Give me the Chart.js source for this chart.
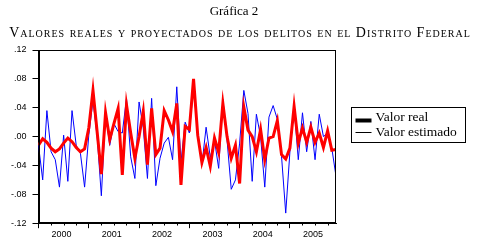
<!DOCTYPE html>
<html>
<head>
<meta charset="utf-8">
<script src="https://cdn.jsdelivr.net/npm/chart.js@4.4.1/dist/chart.umd.min.js"></script>
<style>
  html, body { margin: 0; padding: 0; background: #fff; }
  #wrap { position: relative; width: 480px; height: 249px; overflow: hidden; }
  canvas { position: absolute; left: 0; top: 0; }
  .ttl { position: absolute; left: 0; width: 480px; text-align: center; color: #000;
         font-family: 'Liberation Serif', serif; white-space: nowrap; }
  #t1 { top: 3px; left: -6px; font-size: 13px; line-height: 15px; }
  #t2 { top: 25px; font-size: 14px; line-height: 15px; font-variant: small-caps; letter-spacing: 1px; }
</style>
</head>
<body>
<div id="wrap">
  <canvas id="grafica" width="480" height="249"></canvas>
  <div class="ttl" id="t1">Gráfica 2</div>
  <div class="ttl" id="t2">Valores reales y proyectados de los delitos en el Distrito Federal</div>
</div>
<script>
// datos mensuales 2000M01 - 2005M12
const years = [2000, 2001, 2002, 2003, 2004, 2005];
const months = years.flatMap(y => Array.from({ length: 12 }, (_, m) => y + 'M' + String(m + 1).padStart(2, '0')));

const valorReal = [
  -0.012, -0.003, -0.008, -0.016, -0.021, -0.017, -0.009, -0.002, -0.007, -0.015, -0.021, -0.017,
   0.012,  0.064,  0.006, -0.052,  0.033, -0.004,  0.018,  0.039, -0.053,  0.044,  0.005, -0.030,
   0.000,  0.035, -0.039,  0.039, -0.025, -0.016,  0.036,  0.023,  0.007,  0.046, -0.067,  0.014,
   0.010,  0.080,  0.002, -0.036, -0.015, -0.041, -0.002, -0.022,  0.046,  0.000, -0.030, -0.012,
  -0.065,  0.041,  0.009,  0.000, -0.021,  0.010, -0.032, -0.002,  0.000,  0.022, -0.025, -0.031,
  -0.016,  0.042, -0.009,  0.012, -0.008,  0.013, -0.008,  0.005, -0.015,  0.008, -0.019, -0.018
];

const valorEstimado = [
  -0.012, -0.060,  0.036, -0.021, -0.032, -0.070,  0.002, -0.062,  0.036, -0.012, -0.023, -0.070,
   0.002,  0.050,  0.000, -0.082,  0.032, -0.012,  0.018,  0.007,  0.005,  0.053, -0.028, -0.058,
   0.048,  0.012, -0.058,  0.053, -0.068, -0.030, -0.009, -0.001, -0.032,  0.069, -0.035,  0.020,
   0.005,  0.070,  0.005, -0.039,  0.013, -0.029, -0.005, -0.044,  0.052, -0.005, -0.073, -0.060,
  -0.009,  0.064,  0.032, -0.062,  0.031,  0.000, -0.070,  0.027,  0.043,  0.024, -0.027, -0.106,
  -0.021,  0.041, -0.032,  0.033, -0.021,  0.021, -0.032,  0.031,  0.000,  0.005, -0.016, -0.055
];

const tickFont = { family: "'Liberation Sans', Arial, sans-serif", size: 9 };

// marco completo del área de trazado + marcas trimestrales
const marco = {
  id: 'marco',
  afterDraw(chart) {
    const { ctx, chartArea: a, scales } = chart;
    const l = Math.round(a.left) + 0.5, r = Math.round(a.right) - 0.5;
    const t = Math.round(a.top) + 0.5, b = Math.round(a.bottom) - 0.5;
    ctx.save();
    ctx.strokeStyle = '#000';
    ctx.lineWidth = 1;
    ctx.strokeRect(l, t, r - l, b - t);
    ctx.beginPath();
    for (let i = 3; i < months.length; i += 3) {
      if (i % 12 === 0) continue;
      const x = Math.round(scales.x.getPixelForValue(i)) + 0.5;
      ctx.moveTo(x, b);
      ctx.lineTo(x, b + 3);
    }
    ctx.stroke();
    ctx.restore();
  }
};

// leyenda con recuadro, a la derecha del gráfico
const leyenda = {
  id: 'leyenda',
  afterDraw(chart) {
    const { ctx, chartArea: a } = chart;
    const x0 = Math.round(a.right) + 15.5, y0 = Math.round(a.top) + 57.5;
    const w = 114, h = 35;
    ctx.save();
    ctx.strokeStyle = '#000';
    ctx.lineWidth = 1;
    ctx.strokeRect(x0, y0, w, h);
    ctx.font = "13.5px 'Liberation Serif', serif";
    ctx.fillStyle = '#000';
    ctx.textBaseline = 'middle';
    chart.data.datasets.forEach((ds, i) => {
      const yLine = i === 0 ? y0 + 13 : y0 + 25;
      const yText = y0 + 10 + i * 14.5;
      ctx.beginPath();
      ctx.lineWidth = ds.borderWidth > 1 ? 4 : 1;
      ctx.moveTo(x0 + 4, yLine);
      ctx.lineTo(x0 + 20, yLine);
      ctx.stroke();
      ctx.fillText(ds.label, x0 + 24, yText);
    });
    ctx.restore();
  }
};

new Chart(document.getElementById('grafica'), {
  type: 'line',
  data: {
    datasets: [
      {
        label: 'Valor real',
        data: valorReal.map((v, i) => ({ x: i, y: v })),
        borderColor: '#ff0000',
        borderWidth: 3,
        pointRadius: 0,
        tension: 0
      },
      {
        label: 'Valor estimado',
        data: valorEstimado.map((v, i) => ({ x: i, y: v })),
        borderColor: '#0000ff',
        borderWidth: 1,
        pointRadius: 0,
        tension: 0
      }
    ]
  },
  options: {
    responsive: false,
    animation: false,
    layout: { padding: { top: 50, left: 5, right: 144, bottom: 8 } },
    plugins: {
      legend: { display: false },
      tooltip: { enabled: false }
    },
    scales: {
      x: {
        type: 'linear',
        min: 0,
        max: months.length - 1,
        afterBuildTicks: (scale) => {
          const t = [];
          years.forEach((y, k) => { t.push({ value: k * 12 }); t.push({ value: k * 12 + 5.5 }); });
          scale.ticks = t;
        },
        ticks: {
          autoSkip: false,
          maxRotation: 0,
          padding: 1,
          color: '#000',
          font: tickFont,
          callback: (v) => (v % 12 === 5.5 ? String(years[Math.floor(v / 12)]) : '')
        },
        grid: {
          drawOnChartArea: false,
          tickLength: 5,
          tickColor: (c) => (c.tick && c.tick.value % 12 === 0 ? '#000' : 'rgba(0,0,0,0)')
        },
        border: { color: '#000' }
      },
      y: {
        min: -0.12,
        max: 0.12,
        ticks: {
          stepSize: 0.04,
          padding: 6,
          color: '#000',
          font: tickFont,
          callback: (v) => (v < -1e-9 ? '-' : '') + Math.abs(v).toFixed(2).slice(1)
        },
        grid: { drawOnChartArea: false, tickLength: 6, tickColor: '#000' },
        border: { color: '#000' }
      }
    }
  },
  plugins: [marco, leyenda]
});
</script>
</body>
</html>
